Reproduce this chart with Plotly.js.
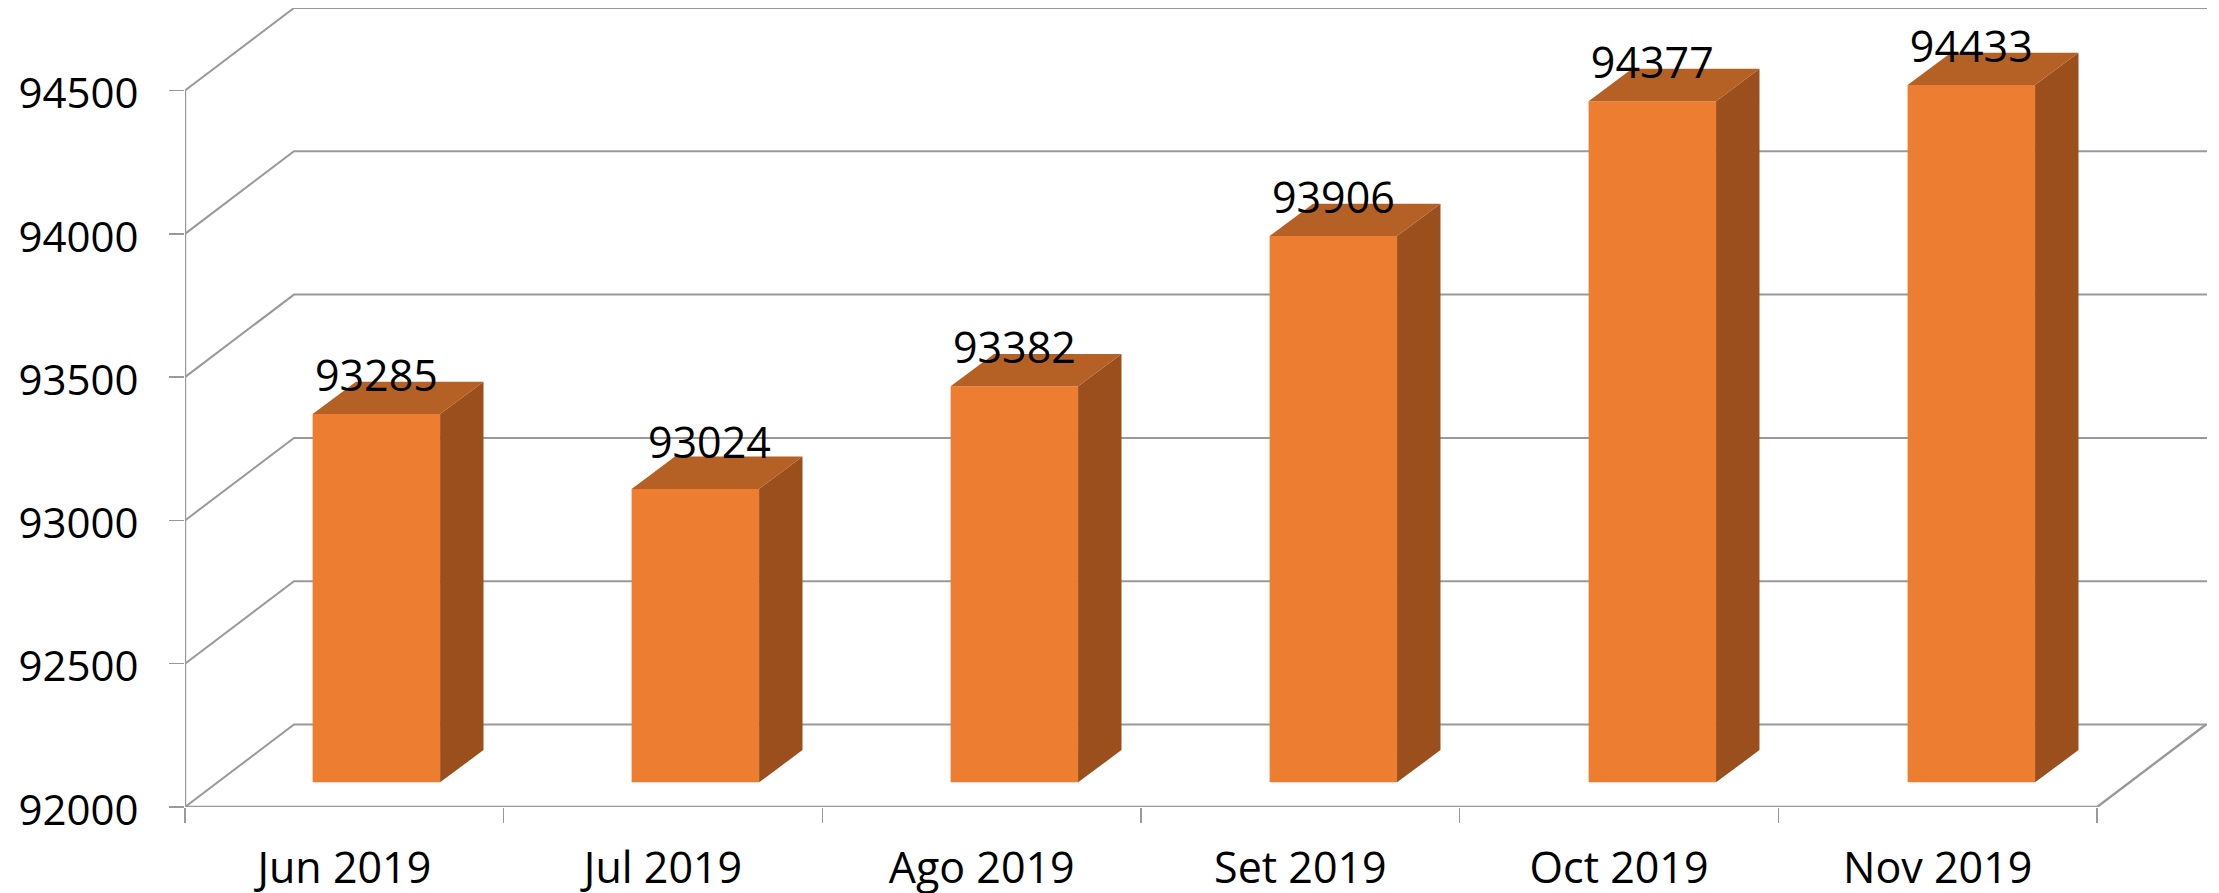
<!DOCTYPE html>
<html>
<head>
<meta charset="utf-8">
<script src="https://cdn.plot.ly/plotly-3.0.1.min.js"></script>
<style>html,body{margin:0;padding:0;background:#fff}</style>
</head>
<body>
<div id="chart" style="width:2219px;height:893px"></div>
<script>
const categories = ["Jun 2019", "Jul 2019", "Ago 2019", "Set 2019", "Oct 2019", "Nov 2019"];
const values = [93285, 93024, 93382, 93906, 94377, 94433];
const yTicks = [92000, 92500, 93000, 93500, 94000, 94500];
const labelNudgeX = [0, 0.044, 0, 0, 0, 0];
const labelNudgeY = [0, 28, 0, 0, 0, 0];

// Pseudo-3D projection, expressed in axis units
const yMin = 92000, yMax = 94788, xMax = 6.345;
const wallDx = 0.342, wallDy = 288;      // depth of the chart box
const barShiftX = 0.1005, barShiftY = 86, barPitch = 1.001; // front of the bars inside the box
const barDx = 0.1362, barDy = 112.7;      // depth of a bar
const barW = 0.4, labelLift = 118;
const gridColor = "#999999";
const font = {family: "'Open Sans', sans-serif", size: 43, color: "#000"};
const yFont = {family: "'Open Sans', sans-serif", size: 42, color: "#000"};

const traces = [];
const line = (x, y, width) => ({
  type: "scatter", mode: "lines", x, y, xaxis: "x", yaxis: "y", cliponaxis: false,
  hoverinfo: "skip", showlegend: false, line: {color: gridColor, width: width || 2}
});
// walls
yTicks.forEach(v => traces.push(line([0, wallDx, xMax], [v, v + wallDy, v + wallDy])));
traces.push(line([0, 0], [yMin, yTicks[yTicks.length - 1]], 2.4));
traces.push(line([0, 6, 6 + wallDx], [yMin, yMin, yMin + wallDy], 2.4));

const centers = categories.map((_, i) => i * barPitch + 0.5 + barShiftX);
const base = yMin + barShiftY;
// bar fronts
traces.push({
  type: "bar", x: centers, y: values.map(v => v - yMin), base: base, width: barW,
  xaxis: "x2", yaxis: "y", marker: {color: "#ED7D31", line: {width: 0}},
  hoverinfo: "skip", showlegend: false
});
const face = (x, y, color) => ({
  type: "scatter", mode: "lines", x, y, xaxis: "x2", yaxis: "y", fill: "toself", fillcolor: color,
  line: {width: 0, color: color}, hoverinfo: "skip", showlegend: false, cliponaxis: false
});
values.forEach((v, i) => {
  const l = centers[i] - barW / 2, r = centers[i] + barW / 2, t = v + barShiftY;
  traces.push(face([r, r + barDx, r + barDx, r, r], [base, base + barDy, t + barDy, t, base], "#9A4F1D"));
  traces.push(face([l, r, r + barDx, l + barDx, l], [t, t, t + barDy, t + barDy, t], "#B56024"));
});
// data labels
traces.push({
  type: "scatter", mode: "text", x: centers.map((c, i) => c + labelNudgeX[i]),
  y: values.map((v, i) => v + barShiftY + labelLift + labelNudgeY[i]),
  text: values.map(String), textposition: "middle center", textfont: font,
  xaxis: "x2", yaxis: "y", cliponaxis: false, hoverinfo: "skip", showlegend: false
});

const layout = {
  width: 2219, height: 893,
  margin: {l: 185, r: 12, t: 8, b: 86, pad: 0},
  paper_bgcolor: "#fff", plot_bgcolor: "rgba(0,0,0,0)",
  showlegend: false,
  xaxis: {
    range: [0, xMax], tickmode: "array", tickvals: [0, 1, 2, 3, 4, 5, 6], showticklabels: false,
    ticks: "outside", ticklen: 15, tickwidth: 1.4, tickcolor: gridColor,
    showgrid: false, zeroline: false, showline: false
  },
  xaxis2: {
    overlaying: "x", anchor: "y", side: "bottom", range: [0, xMax], tickmode: "array",
    tickvals: categories.map((_, i) => i + 0.5), ticktext: categories, tickfont: font,
    ticks: "", ticklabelstandoff: 32, showgrid: false, zeroline: false, showline: false
  },
  yaxis: {
    range: [yMin, yMax], tickmode: "array", tickvals: yTicks, ticktext: yTicks.map(String), tickfont: yFont,
    ticks: "outside", ticklen: 15, tickwidth: 1.4, tickcolor: gridColor, ticklabelstandoff: 22, ticklabelshift: 3,
    showgrid: false, zeroline: false, showline: false
  }
};
Plotly.newPlot("chart", traces, layout, {staticPlot: true, displayModeBar: false});
</script>
</body>
</html>
